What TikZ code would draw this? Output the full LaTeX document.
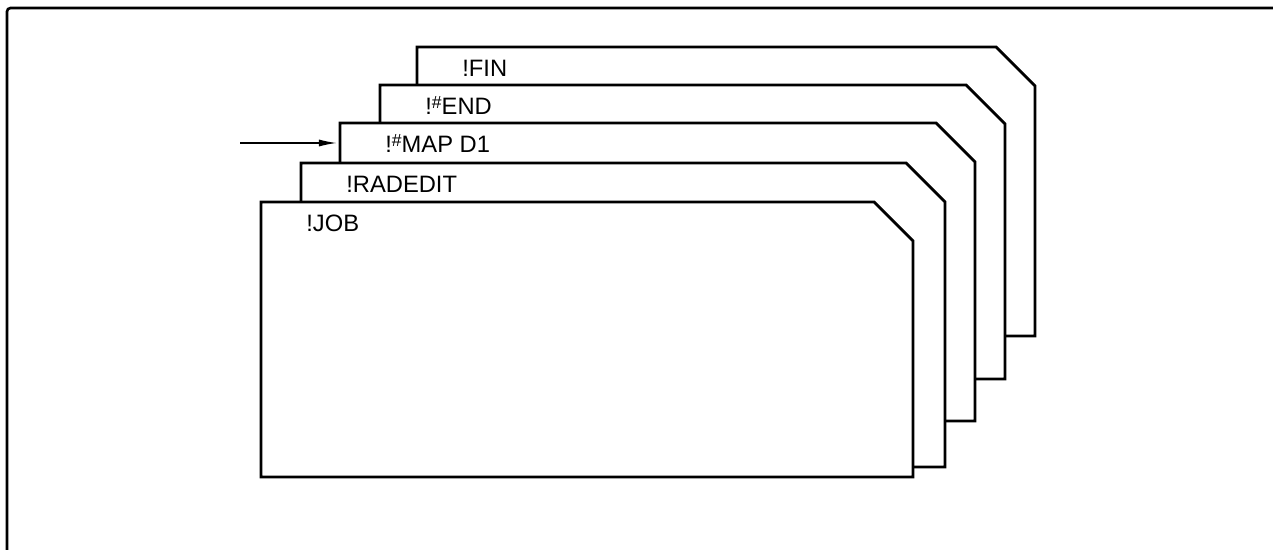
\documentclass[tikz,border=0pt]{standalone}
\usepackage{fontspec}
\setmainfont{Liberation Sans}
\usetikzlibrary{arrows.meta}

\newcommand{\hashsup}{\raisebox{0.55ex}{\fontsize{10}{10}\selectfont\#}}

\tikzset{
  card/.style={draw, fill=white, line width=1.6pt, line join=miter},
  cardtext/.style={anchor=base west, inner sep=0pt, font=\fontsize{13.5}{15}\selectfont}
}

\begin{document}
\begin{tikzpicture}[x=0.02cm, y=-0.02cm]
\useasboundingbox (0,0) rectangle (1273,550);
% frame, open to the right and at the bottom
\draw[line width=1.5pt, rounded corners=2pt] (7,550) -- (7,8) -- (1273,8);
% the deck, back card first
\foreach \l/\t/\r/\b/\txt/\nm in {
    417/47/1035/336/{!FIN}/fin,
    380/85/1005/379/{!\hashsup END}/end,
    340/123/975/421/{!\hashsup MAP D1}/map,
    301/163/945/467/{!RADEDIT}/radedit,
    261/202/913/477/{!JOB}/job} {
  \draw[card] (\l,\b) -- (\l,\t) -- (\r-39,\t) -- (\r,\t+39) -- (\r,\b) -- cycle;
  \node[cardtext] (\nm) at (\l+45,\t+30) {\txt};
  \coordinate (\nm-w) at (\l,\t+20);
}
\coordinate (feed) at (240,143);
\draw[line width=0.6pt, -{Latex[length=3.5mm,width=1.4mm]}, shorten >=2pt] (feed) -- (map-w);
\end{tikzpicture}
\end{document}
